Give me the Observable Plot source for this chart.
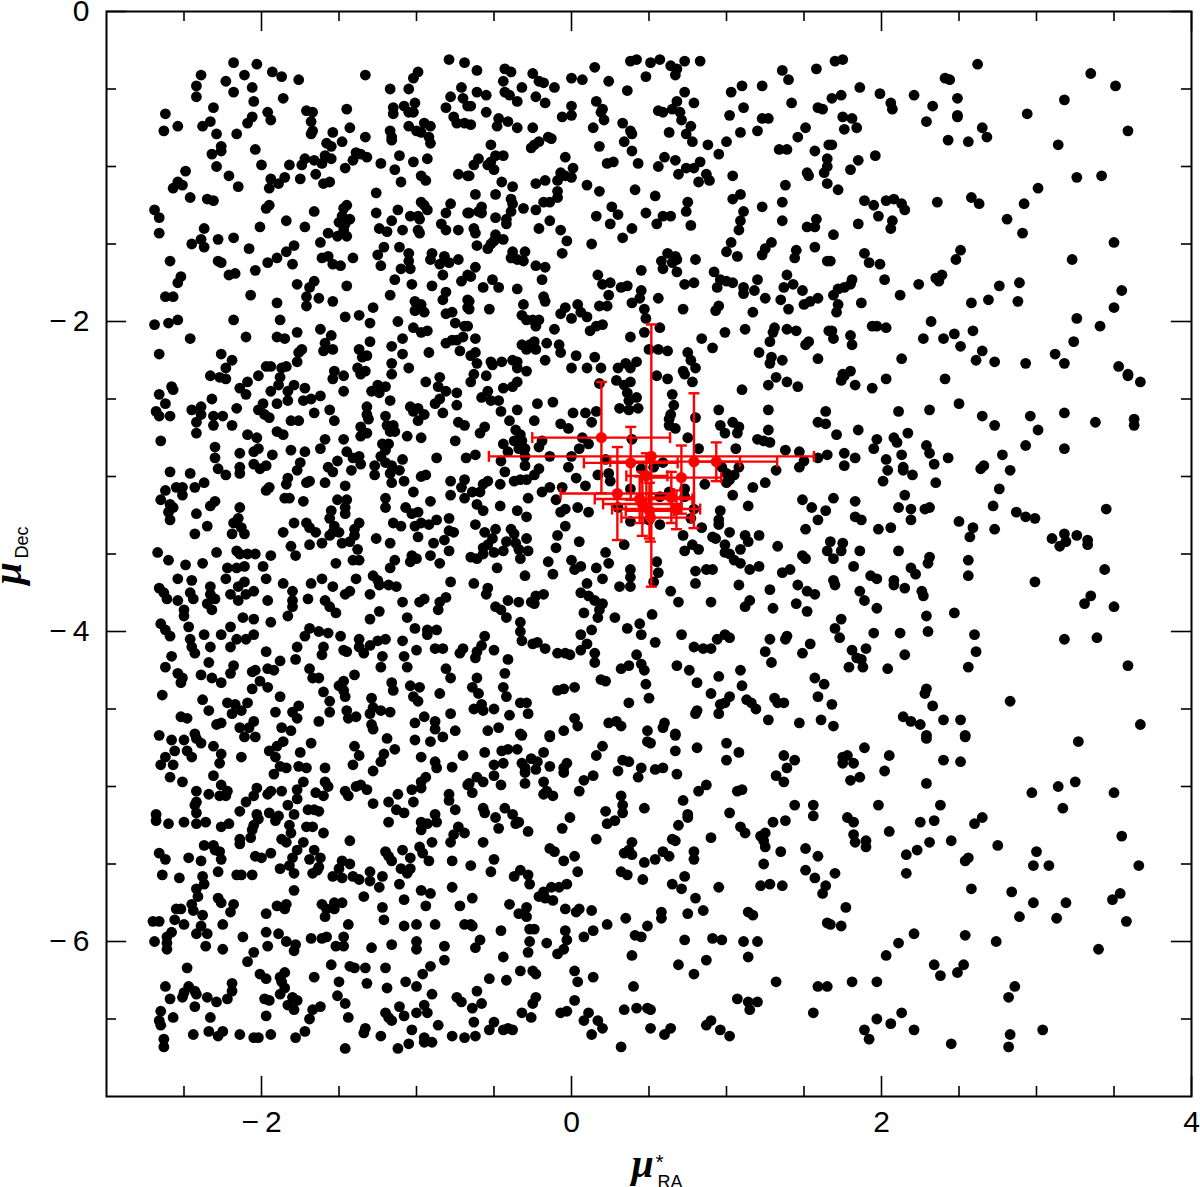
<!DOCTYPE html>
<html><head><meta charset="utf-8">
<style>html,body{margin:0;padding:0;background:#fff}svg{display:block}</style>
<script src="https://cdn.jsdelivr.net/npm/d3@7"></script>
<script src="https://cdn.jsdelivr.net/npm/@observablehq/plot@0.6"></script>
</head><body><div id="chart"></div>
<script>
const fieldTopLeft=[-2.18,-.33,-2.03,-.34,-2.39,-.41,-2.11,-.41,-1.93,-.39,-1.87,-.42,-1.76,-.44,-1.33,-.41,-2.23,-.45,-2.42,-.48,-2.42,-.55,-2.18,-.52,-2.06,-.49,-1.86,-.56,-2.05,-.58,-2.31,-.62,-2.62,-.66,-2.54,-.74,-2.63,-.77,-2.38,-.74,-2.33,-.71,-2.29,-.79,-2.16,-.79,-2.09,-.72,-2.06,-.68,-1.96,-.65,-1.94,-.7,-1.71,-.64,-1.67,-.65,-1.68,-.71,-1.67,-.77,-1.68,-.79,-1.45,-.63,-1.43,-.75,-1.54,-.78,-1.33,-.81,-1.48,-.84,-1.58,-.85,-1.55,-.87,-1.17,-.77,-1.16,-.83,-1.16,-.81,-1.05,-.74,-1,-.77,-.97,-.78,-.95,-.72,-.91,-.74,-.92,-.81,-.91,-.85,-1.17,-.5,-1.05,-.5,-1.02,-.43,-.99,-.39,-1.15,-.62,-1.15,-.66,-1.08,-.61,-1.05,-.65,-1.02,-.65,-1.01,-.59,-.79,-.31,-.69,-.33,-.71,-.49,-.78,-.55,-.7,-.56,-.81,-.62,-.67,-.61,-.76,-.68,-.74,-.72,-.69,-.72,-2.04,-.89,-2.26,-.87,-2.26,-.9,-2.32,-.92,-2.29,-1,-2.49,-1.03,-2.21,-1.06,-2.15,-1.13,-2,-.99,-1.82,-.99,-1.74,-.99,-1.72,-.95,-1.66,-.96,-1.61,-.98,-1.59,-.93,-1.55,-.95,-1.65,-1.05,-1.75,-1.08,-1.85,-1.07,-1.89,-1.11,-1.94,-1.08,-1.95,-1.14,-1.6,-1.11,-1.56,-1.1,-1.46,-1.01,-1.41,-.96,-1.39,-.91,-1.36,-.92,-1.32,-.94,-1.23,-.98,-1.14,-1.02,-1.11,-.93,-1.02,-.97,-.93,-.95,-1.1,-1.1,-.97,-1.06,-.94,-1.09,-.73,-1.05,-.67,-1.06,-2.57,-1.14,-2.54,-1.1,-2.51,-1.12,-2.46,-1.2,-2.35,-1.21,-2.31,-1.22,-2.69,-1.28,-2.66,-1.33,-2.66,-1.43,-1.95,-1.25,-1.97,-1.27,-1.66,-1.29,-1.84,-1.35,-2.01,-1.39,-1.72,-1.39,-1.57,-1.43,-1.45,-1.25,-1.47,-1.27,-1.48,-1.32,-1.43,-1.34,-1.5,-1.36,-1.46,-1.37,-1.47,-1.41,-1.51,-1.45,-1.45,-1.45,-1.26,-1.17,-1.26,-1.3,-1.12,-1.28,-1.16,-1.35,-1.24,-1.4,-1.19,-1.42,-1.09,-1.41,-1.04,-1.32,-.99,-1.32,-.98,-1.34,-.99,-1.41,-.98,-1.43,-.97,-1.23,-.95,-1.25,-.93,-1.28,-.78,-1.24,-.81,-1.3,-.67,-1.3,-.84,-1.37,-.81,-1.41,-.73,-1.41,-2.37,-1.4,-2.39,-1.47,-2.45,-1.5,-2.37,-1.52,-2.28,-1.47,-2.18,-1.46,-2.08,-1.53,-2.59,-1.61,-2.28,-1.61,-2.26,-1.62,-1.96,-1.62,-1.9,-1.59,-1.84,-1.55,-1.79,-1.51,-1.8,-1.63,-1.62,-1.49,-1.61,-1.59,-1.57,-1.58,-1.54,-1.63,-1.49,-1.64,-1.41,-1.59,-1.21,-1.52,-1.11,-1.52,-1.25,-1.57,-1.23,-1.64,-1.05,-1.56,-1.05,-1.61,-1.1,-1.66,-1.04,-1.66,-.9,-1.56,-.91,-1.6,-.82,-1.58,-.85,-1.63,-.79,-1.62,-.73,-1.6,-2.04,-1.67,-2.21,-1.7,-2.17,-1.69,-2.52,-1.71,-2.54,-1.75,-2.62,-1.84,-2.57,-1.84,-2.07,-1.83,-1.77,-1.76,-1.66,-1.74,-1.69,-1.78,-1.71,-1.84,-1.71,-1.9,-1.63,-1.85,-1.54,-1.87,-1.45,-1.77,-1.14,-1.73,-1.03,-1.76,-1.17,-1.83,-.83,-1.7,-.9,-1.77,-.71,-1.74,-.81,-1.81,-.83,-1.86,-.67,-1.86,-.67,-1.91,-.67,-1.7,-1.9,-1.88,-1.01,-1.87,-.97,-1.89,-1.01,-1.93,-.95,-1.94,-1.28,-1.91,-1.46,-1.97,-1.37,-1.96,-1.3,-2.01,-1.12,-2,-.81,-1.95,-.77,-1.94,-.75,-2.01,-.69,-2.03,-2.69,-2.02,-2.6,-2.01,-2.54,-1.99,-2.18,-1.99,-1.88,-1.99,-2.46,-2.11,-2.1,-2.1,-1.9,-2.1,-1.85,-2.11,-1.77,-2.07,-1.62,-2.05,-1.55,-2.09,-1.02,-2.04,-.97,-2.07,-.93,-2.06,-1.09,-2.11,-1.3,-2.13,-1.59,-2.14,-1.6,-2.19,-1.54,-2.18,-1.74,-2.18,-1.76,-2.2,-1.16,-2.16,-.81,-2.14,-.77,-2.12,-.74,-2.12,-.7,-2.1,-.72,-2.19,-.92,-2.2,-1.09,-2.21,-1.37,-2.18,-1.32,-2.22,-1.35,-2.23,-2.66,-2.21,-2.26,-2.21,-2.19,-2.25,-2.23,-2.3,-1.97,-2.29,-1.94,-2.29,-1.87,-2.3,-1.84,-2.29,-1.77,-2.26,-1.16,-2.27,-1.05,-2.3,-1.38,-2.3,-1.33,-2.32,-1.53,-2.32];
const fieldTopMid=[-.61,-.38,-.43,-.37,-.39,-.39,-.44,-.45,-.32,-.49,-.25,-.4,-.21,-.45,-.18,-.46,-.11,-.49,0,-.43,.07,-.44,.15,-.36,.24,-.45,.38,-.32,.42,-.31,.51,-.33,.57,-.31,.64,-.35,.68,-.37,.73,-.32,.67,-.41,.83,-.32,.48,-.42,.36,-.51,1.36,-.38,1.4,-.44,1.58,-.37,1.23,-.48,1.1,-.48,1.03,-.52,.73,-.52,-.61,-.52,-.55,-.54,-.43,-.52,-.4,-.54,-.35,-.58,-.23,-.55,-.17,-.59,-.65,-.61,-.55,-.65,0,-.61,0,-.67,-.06,-.68,.16,-.58,.2,-.63,.19,-.65,.21,-.7,.68,-.58,.65,-.63,.7,-.65,.79,-.59,.56,-.64,.59,-.65,.71,-.7,1.11,-.62,1.02,-.67,1.42,-.59,1.59,-.62,1.62,-.63,-.65,-.73,-.47,-.69,-.48,-.74,-.41,-.71,-.35,-.75,-.25,-.75,.14,-.75,.33,-.72,.38,-.77,.39,-.79,.34,-.84,.63,-.78,.77,-.74,.74,-.79,.78,-.84,1.23,-.69,1.27,-.69,1.2,-.77,1.09,-.78,1.51,-.75,1.46,-.81,1,-.84,.88,-.86,.95,-.92,-.52,-.86,-.15,-.81,-.13,-.82,-.21,-.84,-.24,-.86,-.26,-.88,.18,-.87,.39,-.9,-.04,-.94,1.34,-.89,1.39,-.89,1.57,-.9,1.66,-.86,-.44,-.93,-.49,-.93,-.6,-.95,-.63,-.99,-.54,-.99,-.5,-1.02,-.52,-.97,-.66,-1.06,.23,-.98,.27,-.97,.43,-.98,.6,-.94,.67,-.96,.56,-1,.74,-1.01,.79,-1.01,.83,-.97,.69,-1.05,.87,-1.05,.89,-1.09,.82,-1.1,1.04,-1.06,1.52,-1.04,1.53,-1.06,1.63,-1.04,1.65,-.95,1.65,-1,1.65,-1.11,.01,-1.01,-.07,-1.04,-.04,-1.06,0,-1.07,-.09,-1.09,-.17,-1.09,-.23,-1.11,-.45,-1.1,-.38,-1.13,.1,-1.12,.18,-1.16,.41,-1.15,.54,-1.19,1.38,-1.12,-.62,-1.18,-.49,-1.18,-.39,-1.21,-.38,-1.24,-.39,-1.29,-.31,-1.27,-.23,-1.28,-.09,-1.16,-.09,-1.2,-.14,-1.23,-.18,-1.23,1.04,-1.21,1.09,-1.18,.75,-1.23,.74,-1.29,1.36,-1.23,1.23,-1.26,1.11,-1.29,1.09,-1.35,1.08,-1.41,1.36,-1.35,1.58,-1.34,1.52,-1.39,1.57,-1.39,-.58,-1.26,-.6,-1.29,-.58,-1.3,-.66,-1.3,-.49,-1.33,-.42,-1.34,-.42,-1.37,.26,-1.26,.3,-1.31,.16,-1.32,.25,-1.37,.48,-1.3,.59,-1.32,.64,-1.32,.55,-1.37,.77,-1.38,-.14,-1.35,-.21,-1.4,-.07,-1.41,.39,-1.4,.33,-1.46,-.63,-1.4,-.62,-1.43,-.49,-1.44,-.5,-1.48,-.44,-1.47,-.61,-1.51,-.54,-1.53,-.52,-1.5,-.03,-1.48,.13,-1.5,-.06,-1.56,1.03,-1.49,1,-1.55,1.07,-1.58,1.29,-1.49,1.25,-1.53,1.23,-1.57,1.45,-1.54,1.44,-1.59,1.57,-1.52,1.65,-1.61,-.38,-1.55,-.3,-1.55,-.39,-1.59,-.35,-1.6,-.31,-1.61,-.23,-1.64,-.17,-1.65,-.19,-1.73,-.62,-1.65,-.65,-1.71,-.51,-1.73,-.57,-1.78,-.47,-1.78,-.35,-1.79,.62,-1.56,.67,-1.58,.58,-1.61,.65,-1.62,.68,-1.6,.8,-1.6,.59,-1.66,.45,-1.67,.17,-1.7,.68,-1.68,.92,-1.68,.96,-1.73,1,-1.74,1.04,-1.75,1.2,-1.73,1.39,-1.7,.79,-1.75,.73,-1.76,.94,-1.78,1.11,-1.78,1.11,-1.82,1.18,-1.8,1.43,-1.76,1.37,-1.78,1.49,-1.8,1.25,-1.85,1.35,-1.86,1.59,-1.85,1.54,-1.87,1.5,-1.89,.2,-1.76,.25,-1.75,.32,-1.78,.36,-1.77,.45,-1.8,.24,-1.83,.56,-1.85,.44,-1.85,.39,-1.88,-.18,-1.84,-.17,-1.87,-.31,-1.89,-.53,-1.92,-.66,-1.87,-.66,-1.92,.04,-1.89,.06,-1.94,-.04,-1.91,-.07,-1.95,0,-1.98,.1,-1.97,.18,-1.9,.23,-1.9,.47,-1.92,.72,-1.92,.95,-1.9,.93,-1.93,1.17,-1.94,1.4,-1.92,-.32,-1.96,-.29,-1.99,-.21,-1.99,-.25,-1.99,-.23,-2.03,-.67,-2.03,-.11,-2.05,.2,-2.02,.16,-2.03,.12,-2.06,.48,-1.98,.57,-2.04,.47,-2.07,.38,-2.1,.84,-2.11,.99,-2.07,1.12,-2.05,1.31,-2.04,1.3,-2.07,1.39,-2.05,1.45,-2.06,1.66,-2.06,-.62,-2.11,1.28,-2.13,1.53,-2.13,1.51,-2.15,-.24,-2.13,-.32,-2.15,-.27,-2.15,-.29,-2.18,-.23,-2.18,-.16,-2.14,-.08,-2.15,-.07,-2.2,.03,-2.22,.15,-2.23,-.17,-2.25,.5,-2.18,.56,-2.18,.62,-2.19,.91,-2.17,.75,-2.2,.77,-2.25,.8,-2.3,1.21,-2.2,1.29,-2.23,1.28,-2.27,1.36,-2.25,1.59,-2.24,-.62,-2.2,-.65,-2.22,-.61,-2.27,-.52,-2.26,-.51,-2.28,-.45,-2.26,-.38,-2.25,-.35,-2.26,-.35,-2.3,-.29,-2.32,0,-2.3,.1,-2.3,.19,-2.3,.3,-2.3,.35,-2.27,.38,-2.3,.42,-2.26,.72,-2.32];
const fieldTopRight=[1.7,-.32,1.75,-.31,1.86,-.49,1.68,-.56,1.74,-.54,1.99,-.53,2.06,-.59,2.07,-.63,2.21,-.54,2.33,-.61,2.41,-.43,2.44,-.44,2.62,-.34,2.49,-.56,2.49,-.68,2.49,-.67,2.29,-.71,1.75,-.68,1.81,-.69,1.76,-.76,1.84,-.75,2.94,-.66,3.18,-.57,3.35,-.4,3.51,-.48,3.59,-.77,2.65,-.75,2.68,-.81,2.43,-.83,2.56,-.84,3.14,-.86,1.68,-.86,1.96,-.93,1.85,-.96,1.8,-1.02,1.72,-1.15,3.26,-1.07,3.42,-1.06,3.01,-1.14,1.89,-1.22,1.95,-1.25,2.03,-1.22,2.08,-1.21,2.13,-1.24,2.15,-1.28,2.36,-1.23,2.58,-1.2,2.63,-1.24,2.92,-1.24,1.98,-1.32,2.07,-1.35,2.06,-1.4,1.85,-1.37,2.81,-1.34,2.91,-1.43,1.69,-1.44,3.5,-1.49,3.23,-1.6,2.51,-1.54,2.48,-1.6,1.89,-1.56,1.92,-1.62,1.99,-1.63,1.67,-1.61,2.39,-1.7,2.35,-1.72,2.37,-1.74,2.02,-1.73,1.81,-1.73,1.8,-1.76,1.76,-1.78,1.72,-1.79,1.69,-1.83,2.24,-1.76,2.12,-1.83,2.76,-1.77,2.89,-1.75,3.55,-1.8,2.58,-1.88,2.69,-1.86,2.88,-1.87,3.5,-1.91,1.87,-1.88,1.72,-1.89,1.71,-1.94,3.26,-1.98,2.32,-2,3.41,-2.03,1.94,-2.03,1.97,-2.03,2.03,-2.04,1.68,-2.06,1.69,-2.11,1.8,-2.09,1.81,-2.15,2.59,-2.06,2.47,-2.08,2.4,-2.11,2.27,-2.11,2.51,-2.16,3.24,-2.13,2.65,-2.19,3.12,-2.21,2.61,-2.25,2.73,-2.26,2.13,-2.24,2.93,-2.27,3.18,-2.27,3.53,-2.29,3.59,-2.34,1.8,-2.32,1.75,-2.34];
const fieldMidLeft=[-2.33,-2.35,-2.27,-2.36,-2.23,-2.37,-2.02,-2.35,-1.88,-2.36,-2.09,-2.39,-2.14,-2.43,-2.1,-2.47,-1.89,-2.41,-1.94,-2.45,-1.79,-2.41,-1.83,-2.45,-1.72,-2.43,-1.54,-2.37,-1.47,-2.35,-1.47,-2.45,-1.36,-2.34,-1.16,-2.34,-1.62,-2.48,-2.58,-2.42,-2.57,-2.44,-2.66,-2.47,-2.32,-2.5,-2.62,-2.53,-2.68,-2.58,-2.66,-2.61,-2.59,-2.61,-2.45,-2.57,-2.39,-2.55,-2.39,-2.6,-2.42,-2.65,-2.31,-2.61,-2.25,-2.61,-2.31,-2.67,-2.19,-2.67,-2.16,-2.56,-2.42,-2.72,-2.65,-2.77,-1.9,-2.53,-1.99,-2.53,-2.02,-2.57,-1.98,-2.6,-1.95,-2.62,-1.83,-2.51,-1.73,-2.51,-1.68,-2.5,-1.81,-2.64,-1.76,-2.64,-1.66,-2.59,-1.56,-2.57,-1.53,-2.64,-2.09,-2.73,-2.03,-2.75,-1.9,-2.71,-1.86,-2.73,-1.32,-2.55,-1.32,-2.6,-1.31,-2.63,-1.17,-2.51,-1.2,-2.61,-1.36,-2.68,-1.32,-2.72,-1.36,-2.74,-1.19,-2.67,-1.15,-2.67,-1.17,-2.71,-1.14,-2.71,-1.06,-2.74,-.97,-2.75,-1.04,-2.55,-.99,-2.56,-1.02,-2.58,-.95,-2.6,-.99,-2.64,-1.2,-2.42,-1.25,-2.41,-1.29,-2.45,-1.24,-2.46,-.94,-2.39,-.85,-2.36,-.86,-2.42,-.81,-2.45,-.85,-2.5,-.88,-2.53,-.74,-2.46,-.74,-2.54,-.83,-2.59,-.73,-2.65,-.69,-2.67,-.75,-2.77,-1.59,-2.76,-1.62,-2.82,-1.47,-2.76,-1.45,-2.84,-1.41,-2.88,-1.37,-2.87,-1.36,-2.92,-1.51,-2.9,-1.42,-2.96,-1.57,-2.94,-1.54,-2.97,-1.22,-2.79,-1.18,-2.79,-1.2,-2.83,-1.23,-2.87,-1.2,-2.91,-1.16,-2.93,-1.27,-2.93,-1.27,-2.99,-1.17,-2.98,-1.09,-2.89,-1.11,-2.96,-1.16,-3.04,-1.08,-3.03,-.87,-2.88,-.68,-2.88,-.97,-3,-.94,-2.99,-.78,-3.03,-.69,-3.02,-.71,-3.07,-.78,-3.12,-.69,-3.14,-2.3,-2.81,-2.3,-2.88,-2.14,-2.85,-2.05,-2.84,-2.02,-2.82,-1.93,-2.86,-1.81,-2.83,-1.72,-2.84,-1.75,-2.91,-1.77,-2.96,-2.28,-2.95,-2.14,-2.94,-2.14,-2.98,-2.05,-2.92,-2.01,-2.95,-1.97,-2.93,-2.23,-2.99,-2.59,-2.97,-2.46,-2.98,-2.37,-3.04,-2.43,-3.07,-1.83,-3.01,-1.84,-3.05,-1.69,-3.03,-1.71,-3.04,-1.59,-3.04,-1.46,-3.06,-2.55,-3.07,-2.51,-3.07,-2.51,-3.12,-2.62,-3.09,-2.65,-3.15,-2.59,-3.18,-2.57,-3.2,-2.6,-3.23,-2.59,-3.28,-2.42,-3.24,-2.33,-3.19,-2.3,-3.16,-1.95,-3.07,-1.97,-3.09,-1.85,-3.14,-1.82,-3.14,-1.73,-3.16,-1.51,-3.15,-1.45,-3.15,-1.46,-3.2,-1.46,-3.24,-1.55,-3.22,-1.56,-3.27,-1.2,-3.14,-1.2,-3.2,-1.02,-3.1,-.91,-3.16,-1.07,-3.2,-1.03,-3.24,-.99,-3.23,-2.14,-3.2,-2.15,-3.27,-2.18,-3.3,-2.13,-3.33,-2.19,-3.37,-2.11,-3.37,-2.35,-3.32,-2.43,-3.37,-1.79,-3.3,-1.86,-3.36,-1.71,-3.3,-1.69,-3.33,-1.65,-3.36,-1.53,-3.32,-1.54,-3.36,-1.56,-3.38,-1.61,-3.43,-1.5,-3.36,-1.37,-3.3,-1.4,-3.34,-1.4,-3.38,-1.43,-3.42,-1.48,-3.43,-1.26,-3.4,-1.17,-3.43,-1.15,-3.3,-1.1,-3.32,-1.01,-3.32,-.97,-3.3,-.92,-3.31,-.87,-3.28,-.79,-3.27,-.79,-3.35,-.76,-3.36,-.99,-3.39,-.82,-3.41,-.89,-3.43,-.79,-3.48,-.91,-3.51,-.85,-3.56,-1.81,-3.45,-1.78,-3.51,-1.69,-3.44,-1.38,-3.47,-1.37,-3.54,-1.41,-3.54,-1.52,-3.56,-1.14,-3.54,-1.17,-3.59,-1.03,-3.51,-1,-3.53,-1.04,-3.55,-2.67,-3.49,-2.6,-3.54,-2.49,-3.57,-2.38,-3.56,-2.29,-3.49,-2.16,-3.48,-2.14,-3.5,-2.09,-3.5,-2.04,-3.5,-1.94,-3.51,-1.99,-3.58,-2.11,-3.58,-2.16,-3.59,-2.22,-3.59,-2.23,-3.66,-2.54,-3.66,-2.45,-3.67,-2.33,-3.71,-1.97,-3.66,-2.11,-3.68,-2.15,-3.71,-1.86,-3.69,-1.68,-3.69,-1.61,-3.66,-1.54,-3.71,-1.39,-3.66,-1.28,-3.64,-1.25,-3.67,-1.24,-3.7,-1.18,-3.7,-1.13,-3.71,-.78,-3.68,-2.66,-3.72,-2.63,-3.75,-2.61,-3.79,-2.54,-3.8,-2.46,-3.75,-2.44,-3.79,-2.33,-3.76,-2.3,-3.79,-2.35,-3.82,-2.32,-3.86,-2.5,-3.86,-2.5,-3.9,-2.2,-3.76,-2.15,-3.8,-2.1,-3.76,-2.05,-3.74,-1.96,-3.8,-1.8,-3.74,-1.8,-3.8,-1.8,-3.84,-1.83,-3.9,-1.7,-3.79,-1.59,-3.8,-1.56,-3.84,-1.52,-3.88,-1.43,-3.74,-1.46,-3.76,-1.3,-3.76,-1.24,-3.87,-1.3,-3.92,-1.09,-3.81,-.98,-3.81,-.95,-3.79,-.81,-3.78,-.85,-3.81,-.86,-3.86,-1.06,-3.91,-2.12,-3.91,-2.05,-3.92,-1.94,-3.94,-2.65,-3.95,-2.62,-3.99,-2.59,-4.03,-2.47,-3.97,-2.37,-4.02,-2.26,-4.02,-2.2,-3.97,-2.05,-4.02,-2.1,-4.05,-2.16,-4.05,-2.2,-4.1,-2.46,-4.05,-2.33,-4.1,-2.45,-4.1,-2.43,-4.14,-1.97,-4.13,-2.58,-4.16,-1.69,-3.98,-1.72,-4.03,-1.63,-4,-1.57,-4.01,-1.49,-4.03,-1.77,-4.1,-1.6,-4.1,-1.61,-4.15,-1.78,-4.18,-1.88,-4.19,-1.47,-4.12,-1.45,-4.13,-1.37,-4.05,-1.37,-4.1,-1.3,-4.09,-1.34,-4.14,-1.25,-4.06,-1.2,-4.05,-1.09,-4.06,-1.01,-3.98,-.93,-3.99,-.87,-3.99,-.93,-4.02,-1,-4.12,-1.08,-4.16,-.88,-4.11,-.83,-4.11,-.7,-4.11,-.72,-4.14,-1.22,-4.16,-1.23,-4.23,-1.06,-4.23,-2.62,-4.23,-2.34,-4.2,-2.18,-4.22,-2.2,-4.27,-2.54,-4.27,-2.51,-4.3,-2.52,-4.33,-2.39,-4.28,-2.32,-4.3,-2.26,-4.33,-2.06,-4.26,-2.04,-4.25,-1.96,-4.24,-1.92,-4.25,-2.01,-4.32,-1.96,-4.36,-2.06,-4.37,-1.69,-4.24,-1.67,-4.3,-1.63,-4.3,-1.4,-4.28,-1.47,-4.32,-1.5,-4.35,-1.47,-4.38,-1.46,-4.42,-1.6,-4.39,-1.56,-4.45,-1.16,-4.33,-1.15,-4.38,-1.04,-4.35,-.98,-4.36,-1.02,-4.42,-.99,-4.45,-.85,-4.4,-.81,-4.24,-.78,-4.3,-2.64,-4.41,-2.38,-4.44,-2.22,-4.46,-2.17,-4.47,-2.09,-4.46,-1.88,-4.42,-1.76,-4.48,-2.34,-4.51,-2.19,-4.53,-2.13,-4.51,-1.91,-4.52,-1.8,-4.52,-1.77,-4.56,-1.56,-4.52,-1.45,-4.51,-1.44,-4.56,-1.39,-4.55,-1.29,-4.43,-1.28,-4.49,-1.3,-4.53,-1.23,-4.51,-1.17,-4.52,-.95,-4.55,-1.01,-4.59,-.88,-4.58,-.78,-4.53,-2.52,-4.55,-2.48,-4.56,-2.29,-4.6,-2.26,-4.59,-2.14,-4.62,-2.05,-4.58,-2.08,-4.62,-1.87,-4.62,-1.81,-4.64,-1.63,-4.58,-1.29,-4.6,-1.28,-4.63,-.88,-4.63,-.75,-4.64,-2.66,-4.67,-2.43,-4.66];
const fieldMidMid=[-.63,-2.34,-.65,-2.39,-.55,-2.35,-.44,-2.43,-.38,-2.42,-.35,-2.39,-.54,-2.45,-.58,-2.49,-.52,-2.51,-.47,-2.51,-.455,-2.58,-.35,-2.57,-.4,-2.64,-.22,-2.53,-.12,-2.52,-.24,-2.64,-.07,-2.66,-.02,-2.69,.01,-2.59,.09,-2.59,.16,-2.58,.13,-2.65,.18,-2.4,.29,-2.38,.34,-2.41,.38,-2.39,.36,-2.46,.42,-2.49,.37,-2.51,.31,-2.56,.37,-2.57,.43,-2.56,.55,-2.35,.62,-2.37,.73,-2.34,.78,-2.39,.65,-2.47,.66,-2.54,.64,-2.6,.63,-2.63,.63,-2.67,.67,-2.69,.8,-2.62,.95,-2.57,.96,-2.67,.99,-2.72,1.04,-2.65,1.08,-2.68,1.07,-2.72,1.1,-2.44,1.27,-2.41,1.32,-2.36,1.39,-2.39,1.46,-2.42,1.27,-2.57,1.27,-2.7,1.64,-2.58,1.59,-2.65,1.64,-2.66,1.2,-2.76,1.24,-2.77,1.28,-2.78,-.56,-2.68,-.59,-2.72,-.36,-2.7,-.33,-2.73,-.37,-2.77,-.32,-2.77,-.19,-2.77,-.44,-2.79,-.41,-2.84,-.34,-2.82,-.3,-2.82,-.21,-2.81,-.3,-2.87,-.14,-2.87,.11,-2.79,.07,-2.75,.39,-2.76,.75,-2.75,.82,-2.82,1.06,-2.82,1.38,-2.83,1.47,-2.84,1.59,-2.88,1.65,-2.86,1.5,-2.9,1.47,-2.94,-.62,-2.86,-.455,-2.9,-.3,-2.93,-.43,-2.97,-.21,-2.95,-.24,-2.99,-.02,-2.94,0,-2.87,.05,-2.82,.03,-3.01,.17,-2.99,.24,-2.98,.25,-3.03,.09,-3.06,-.06,-3.07,.22,-2.89,1.32,-2.96,.97,-2.94,1,-2.98,1.08,-2.94,1.05,-2.99,1.02,-3.02,1,-3.04,.86,-3.05,1.25,-3.04,1.17,-3.07,1.04,-3.12,1.14,-3.19,-.54,-3.03,-.57,-3.05,-.46,-3.05,-.59,-3.1,-.64,-3.1,-.37,-3.03,-.33,-3.02,-.29,-3.02,-.14,-3.07,-.19,-3.1,-.1,-3.15,-.28,-3.14,-.46,-3.19,-.61,-3.18,-.57,-3.22,-.35,-3.22,-.29,-3.26,-.04,-3.21,-.07,-3.23,.04,-3.2,.11,-3.23,1.49,-3.15,1.55,-3.2,1.64,-3.22,1.59,-3.28,1.51,-3.34,.96,-3.22,.95,-3.28,.95,-3.31,.3,-3.2,.38,-3.29,.57,-3.31,.38,-3.08,.57,-3.13,.63,-3.1,.73,-3.08,.73,-3.13,.79,-3.21,.77,-3.27,.45,-2.95,.53,-2.94,.59,-2.91,.5,-3.28,-.04,-3.32,-.62,-3.31,-.56,-3.36,-.49,-3.34,-.39,-3.34,-.37,-3.37,-.29,-3.4,-.51,-3.4,-.54,-3.44,-.57,-3.46,-.57,-3.5,-.42,-3.42,-.36,-3.43,-.34,-3.47,-.28,-3.48,-.5,-3.49,-.44,-3.48,-.33,-3.53,-.65,-3.52,-.61,-3.53,-.09,-3.38,-.1,-3.46,.05,-3.42,-.48,-3.59,-.3,-3.64,-.15,-3.55,-.12,-3.63,0,-3.54,.06,-3.58,.02,-3.6,.16,-3.59,.2,-3.66,.22,-3.49,.24,-3.56,.34,-3.44,.55,-3.55,.56,-3.62,.38,-3.6,.38,-3.65,.38,-3.71,.31,-3.71,.53,-3.68,.64,-3.74,.1,-3.69,.06,-3.75,-.63,-3.69,-.54,-3.72,-.55,-3.76,.72,-3.38,.84,-3.33,.91,-3.39,.93,-3.4,1.02,-3.36,1.12,-3.38,1.14,-3.42,1.21,-3.38,.99,-3.44,.99,-3.49,1.02,-3.5,1.09,-3.47,1.05,-3.54,1.09,-3.56,1.33,-3.45,.73,-3.48,.78,-3.44,.82,-3.47,1.49,-3.51,1.51,-3.53,1.65,-3.48,1.21,-3.58,1.15,-3.6,1.41,-3.6,1.36,-3.62,.8,-3.61,.87,-3.6,.91,-3.6,.8,-3.69,1.08,-3.7,1.28,-3.73,1.46,-3.7,1.52,-3.74,1.57,-3.76,-.41,-3.8,-.34,-3.81,-.49,-3.84,-.455,-3.86,-.42,-3.91,-.23,-3.77,-.18,-3.76,-.26,-3.81,-.24,-3.82,-.33,-3.94,-.33,-4,-.32,-4.06,.11,-3.77,.15,-3.8,.2,-3.82,.18,-3.86,.17,-3.91,.08,-3.88,.28,-3.91,.52,-3.89,.69,-3.81,.9,-3.81,1.15,-3.8,1.12,-3.84,1.3,-3.85,1.45,-3.82,1.52,-3.87,.44,-3.95,.36,-3.98,.45,-4.02,.54,-4.07,.13,-3.99,.06,-4.02,.1,-4.08,.06,-4.12,.15,-4.14,.15,-4.2,-.56,-4.03,-.58,-4.09,-.61,-4.13,-.62,-4.17,-.5,-4.12,-.41,-4.18,-.25,-4.08,-.22,-4.07,-.17,-4.11,-.09,-4.14,-.04,-4.14,-.01,-4.15,.71,-4.02,.94,-4.05,.99,-4.02,1.02,-4.04,.79,-4.1,.85,-4.11,.9,-4.11,1.28,-4.05,1.25,-4.13,1.39,-4.03,1.38,-4.05,1.54,-4.08,1.49,-4.14,1.29,-4.2,.42,-4.15,.32,-4.24,.37,-4.22,.45,-4.21,.47,-4.25,.68,-4.22,.76,-4.25,1.09,-4.25,.95,-4.29,.81,-4.33,-.43,-4.27,-.61,-4.3,-.64,-4.36,-.6,-4.4,-.44,-4.36,-.42,-4.42,.19,-4.31,.22,-4.32,.02,-4.36,-.09,-4.38,-.05,-4.37,.48,-4.34,.5,-4.43,.37,-4.46,1.1,-4.35,1.57,-4.3,1.63,-4.34,1.59,-4.42,.9,-4.4,1.02,-4.42,.99,-4.46,.96,-4.47,1.13,-4.44,1.16,-4.46,1.19,-4.5,1.31,-4.43,1.33,-4.46,1.37,-4.46,-.33,-4.46,-.29,-4.46,-.58,-4.47,-.63,-4.5,-.57,-4.51,-.5,-4.5,-.4,-4.54,-.28,-4.53,.81,-4.51,.8,-4.53,.95,-4.53,.02,-4.56,.04,-4.61,.24,-4.59,.29,-4.58,.32,-4.61,.6,-4.59,.59,-4.62,1.27,-4.57,1.47,-4.59,1.61,-4.57,-.47,-4.62,-.54,-4.64,-.33,-4.66,-.05,-4.64,-.14,-4.67,.49,-4.64,.67,-4.66];
const fieldMidRight=[1.74,-2.38,1.76,-2.35,1.83,-2.41,1.94,-2.43,2.03,-2.37,2.41,-2.37,3.59,-2.35,3.67,-2.39,2.5,-2.53,2.11,-2.58,2.31,-2.57,2.65,-2.61,2.73,-2.67,2.96,-2.61,3.01,-2.7,3.18,-2.59,3.38,-2.65,3.63,-2.63,3.63,-2.67,1.85,-2.7,1.71,-2.73,1.97,-2.76,1.95,-2.82,2.08,-2.75,2.1,-2.78,2.17,-2.72,2.29,-2.8,2.31,-2.85,2.93,-2.8,3.18,-2.82,1.76,-2.85,1.83,-2.88,1.76,-2.93,2.03,-2.89,2.13,-2.86,2.04,-2.96,2.14,-2.94,2.14,-2.96,2.2,-2.99,2.01,-3.03,2.34,-2.92,2.35,-3.04,2.43,-2.88,2.66,-2.93,2.64,-2.95,2.78,-2.86,2.83,-2.96,2.76,-3.08,2.15,-3.12,1.69,-3.14,1.83,-3.16,2.11,-3.2,2.19,-3.21,2.28,-3.21,2.31,-3.2,2.72,-3.19,2.87,-3.23,2.93,-3.26,2.99,-3.27,3.45,-3.21,1.83,-3.26,1.87,-3.28,2.19,-3.28,2.5,-3.29,2.59,-3.33,2.57,-3.39,2.73,-3.34,2.06,-3.33,1.98,-3.34,3.1,-3.4,3.18,-3.37,3.19,-3.42,3.15,-3.45,3.26,-3.38,3.33,-3.41,3.33,-3.44,1.67,-3.42,1.75,-3.43,1.74,-3.48,1.86,-3.48,2.11,-3.48,1.69,-3.53,2.31,-3.52,2.3,-3.56,2.56,-3.54,1.82,-3.58,2.19,-3.59,2.22,-3.63,1.93,-3.64,1.97,-3.66,2.56,-3.64,3.44,-3.6,2.99,-3.68,1.69,-3.67,1.7,-3.7,2.08,-3.67,2.08,-3.7,2.15,-3.72,2.26,-3.74,2.27,-3.77,1.86,-3.74,1.89,-3.8,1.97,-3.85,3.35,-3.77,3.31,-3.82,3.5,-3.84,2.29,-3.9,2.47,-3.88,1.74,-3.92,1.7,-3.98,1.73,-4.04,1.95,-4.01,2.12,-4.01,2.3,-4,2.6,-4.02,3.18,-4.05,3.39,-4.04,1.81,-4.12,1.9,-4.11,2.61,-4.13,2.15,-4.15,1.84,-4.17,1.87,-4.18,1.79,-4.23,1.88,-4.23,2.04,-4.24,2.56,-4.23,3.59,-4.22,2.29,-4.37,2.28,-4.4,2.83,-4.45,1.68,-4.47,2.33,-4.48,2.14,-4.55,2.19,-4.58,2.25,-4.6,2.4,-4.57,2.51,-4.57,1.69,-4.61,3.67,-4.6,2.54,-4.67,2.29,-4.67];
const fieldLowLeft=[-2.58,-4.7,-2.5,-4.7,-2.42,-4.69,-2.39,-4.72,-2.31,-4.74,-2.11,-4.68,-2.04,-4.68,-1.86,-4.71,-1.9,-4.74,-1.95,-4.77,-1.68,-4.72,-1.75,-4.78,-1.91,-4.81,-2.56,-4.77,-2.48,-4.77,-2.45,-4.81,-2.26,-4.79,-2.62,-4.81,-2.65,-4.86,-2.57,-4.86,-2.27,-4.85,-2.13,-4.81,-2.31,-4.93,-2.59,-4.94,-2.51,-4.97,-1.88,-4.87,-1.84,-4.88,-1.76,-4.87,-1.71,-4.88,-1.59,-4.88,-1.92,-4.92,-1.4,-4.74,-1.37,-4.8,-1.41,-4.86,-1.28,-4.9,-1.19,-4.69,-1.14,-4.76,-1.21,-4.79,-1.23,-4.84,-1.01,-4.7,-.91,-4.71,-.83,-4.68,-.97,-4.81,-.7,-4.8,-.88,-4.84,-.87,-4.88,-.77,-4.875,-.94,-4.94,-.97,-4.97,-.67,-4.99,-1.73,-4.97,-1.59,-4.97,-1.57,-5,-1.77,-5.02,-1.87,-5.03,-1.94,-5.03,-1.96,-5.05,-2.03,-5.01,-2.05,-5.06,-2.1,-5.1,-2.42,-5.03,-2.34,-5.05,-2.26,-4.99,-2.22,-5.03,-2.27,-5.06,-2.23,-5.06,-2.42,-5.1,-2.43,-5.12,-2.42,-5.17,-1.65,-5.04,-1.6,-5.06,-1.77,-5.08,-1.83,-5.12,-1.46,-5.03,-1.44,-5.06,-1.39,-5,-1.36,-4.99,-1.32,-5.02,-1.28,-5.11,-1.12,-5.05,-1.18,-5.1,-1.13,-5.15,-1.08,-5.17,-1.02,-5.1,-1.03,-5.02,-.97,-5.01,-.79,-5.05,-.79,-5.09,-.75,-5.15,-1.7,-5.15,-1.66,-5.15,-1.63,-5.16,-1.79,-5.18,-2.14,-5.16,-2.03,-5.18,-2.02,-5.21,-1.95,-5.17,-1.89,-5.19,-1.91,-5.22,-2.68,-5.18,-2.68,-5.22,-2.6,-5.24,-2.5,-5.23,-2.42,-5.24,-2.36,-5.23,-2.26,-5.26,-2.21,-5.24,-2.05,-5.25,-2.06,-5.28,-1.82,-5.25,-1.81,-5.3,-1.71,-5.26,-1.67,-5.26,-1.6,-5.3,-1.18,-5.23,-.88,-5.18,-.97,-5.23,-.93,-5.24,-.87,-5.23,-.97,-5.28,-.73,-5.26,-.76,-5.31,-.69,-5.3,-.78,-5.36,-2.14,-5.34,-2.14,-5.37,-2.07,-5.33,-1.87,-5.34,-1.84,-5.36,-1.73,-5.36,-1.43,-5.35,-.9,-5.36,-2.37,-5.38,-2.31,-5.38,-2.3,-5.41,-2.27,-5.42,-2.66,-5.43,-2.62,-5.47,-2.47,-5.46,-2.39,-5.48,-2.26,-5.47,-2.04,-5.45,-2,-5.46,-1.94,-5.43,-1.77,-5.41,-1.8,-5.46,-1.66,-5.41,-1.62,-5.46,-1.69,-5.47,-1.2,-5.42,-1.18,-5.45,-1.16,-5.48,-1.09,-5.41,-1.04,-5.46,-.98,-5.39,-.96,-5.43,-.92,-5.48,-.77,-5.48,-1.48,-5.48,-1.43,-5.5,-1.82,-5.51,-1.88,-5.53,-1.63,-5.52,-1.64,-5.54,-1.67,-5.56,-1.79,-5.56,-1.5,-5.53,-1.54,-5.58,-1.48,-5.59,-1.41,-5.58,-1.37,-5.6,-1.3,-5.55,-1.3,-5.61,-1.22,-5.58,-1.1,-5.53,-1.04,-5.53,-1.06,-5.56,-1.11,-5.63,-1.24,-5.65,-2.64,-5.57,-2.53,-5.59,-2.28,-5.55,-2.16,-5.57,-2.13,-5.57,-2.06,-5.57,-2.38,-5.58,-2.37,-5.63,-2.42,-5.66,-2.41,-5.71,-2.45,-5.76,-2.44,-5.8,-2.55,-5.79,-2.52,-5.79,-2.56,-5.86,-2.38,-5.83,-2.28,-5.72,-2.26,-5.75,-2.18,-5.76,-2.2,-5.81,-1.79,-5.67,-1.34,-5.71,-1.08,-5.73,-.97,-5.67,-.91,-5.69,-.77,-5.65,-.94,-5.77,-.72,-5.77,-1.22,-5.78,-1.21,-5.86,-1.9,-5.77,-1.84,-5.76,-1.85,-5.79,-1.97,-5.82,-1.61,-5.76,-1.58,-5.79,-1.59,-5.84,-1.53,-5.75,-1.48,-5.75,-1.53,-5.79,-1.44,-5.89,-2.7,-5.87,-2.66,-5.87,-2.5,-5.89,-2.39,-5.9,-2.25,-5.89,-2.42,-5.95,-2.35,-5.95,-2.58,-5.94,-2.61,-5.97,-2.69,-6,-2.61,-6.01,-2.61,-6.05,-2.36,-6.03,-2.25,-6.05,-2.12,-5.97,-1.97,-5.94,-1.89,-5.95,-1.84,-6,-1.78,-6.02,-1.79,-6.06,-1.96,-6.03,-2.05,-6.07,-2.09,-6.13,-1.68,-5.98,-1.61,-5.98,-1.58,-5.97,-1.47,-5.97,-1.52,-6.03,-1.47,-6.03,-1.29,-6.04,-1.16,-6.02,-1.08,-5.9,-1,-5.89,-.88,-5.89,-1,-6,-1,-6.05,-.82,-6.03,-.82,-6.12,-.69,-5.89,-2.48,-6.17,-1.55,-6.15,-1.43,-6.16,-1.4,-6.17,-1.33,-6.17,-1.2,-6.17,-.91,-6.16,-.96,-6.21,-2.01,-6.21,-1.97,-6.24,-1.85,-6.2,-1.88,-6.23,-1.87,-6.26,-1.85,-6.3,-1.88,-6.34,-1.66,-6.23,-1.5,-6.26,-1.32,-6.27,-1.19,-6.3,-1.07,-6.26,-1,-6.29,-2.62,-6.29,-2.47,-6.29,-2.5,-6.33,-2.51,-6.36,-2.43,-6.32,-2.42,-6.34,-2.35,-6.36,-2.29,-6.39,-2.22,-6.37,-2.19,-6.32,-2.19,-6.27,-2.59,-6.37,-2.43,-6.42,-1.98,-6.37,-1.95,-6.38,-1.8,-6.36,-1.77,-6.38,-1.83,-6.41,-1.79,-6.44,-1.67,-6.44,-1.62,-6.42,-1.51,-6.35,-1.46,-6.4,-.9,-6.34,-.74,-6.36,-.71,-6.39,-.95,-6.41,-1.11,-6.42,-1.2,-6.46,-1.18,-6.49,-1.16,-6.51,-1.08,-6.48,-1,-6.46,-.93,-6.46,-2.65,-6.45,-2.57,-6.49,-2.66,-6.51,-2.65,-6.54,-2.33,-6.49,-1.97,-6.48,-1.69,-6.5,-1.44,-6.49,-1.33,-6.56,-1.34,-6.59,-1.23,-6.61,-1.03,-6.57,-.86,-6.54,-2.44,-6.6,-2.34,-6.58,-2.25,-6.58,-2.28,-6.61,-2.14,-6.6,-2.05,-6.62,-2.02,-6.62,-1.94,-6.6,-1.78,-6.62,-1.72,-6.58,-2.63,-6.63,-2.63,-6.68,-1.46,-6.69,-1.12,-6.69,-1.05,-6.66,-.95,-6.62,-.95,-6.65,-.9,-6.65,-.77,-6.61,-.69,-6.62];
const fieldLowMid=[-.32,-4.67,-.14,-4.68,.49,-4.71,.51,-4.72,.67,-4.67,-.56,-4.78,-.45,-4.77,-.41,-4.76,-.35,-4.76,-.18,-4.78,.2,-4.74,.16,-4.8,.67,-4.77,.81,-4.75,1,-4.72,1.08,-4.78,1,-4.83,1.37,-4.8,1.44,-4.83,1.39,-4.88,-.5,-4.86,-.44,-4.85,-.32,-4.85,-.26,-4.82,-.22,-4.84,-.3,-4.88,-.23,-4.89,-.14,-4.87,-.03,-4.85,-.05,-4.88,-.05,-4.91,-.3,-4.91,.33,-4.83,.37,-4.84,.45,-4.88,.54,-4.89,.59,-4.88,.3,-4.9,.43,-4.94,.68,-4.92,1.32,-4.93,1.37,-4.97,-.61,-4.94,-.57,-4.97,-.5,-4.93,-.455,-4.99,-.66,-4.98,-.64,-5.04,-.3,-4.98,-.18,-4.97,-.16,-5.03,-.18,-5.05,-.12,-5.06,.14,-4.93,.08,-4.96,.05,-5.03,.87,-4.99,.82,-5.03,1.07,-5.03,1.1,-5.02,.32,-5.06,.72,-5.09,.33,-5.12,.33,-5.17,.22,-5.16,.47,-5.14,.28,-5.22,.23,-5.24,.75,-5.18,.75,-5.2,.69,-5.25,1.02,-5.17,1.44,-5.12,1.56,-5.12,1.56,-5.19,1.38,-5.22,1.3,-5.23,-.57,-5.14,-.56,-5.17,-.43,-5.14,-.38,-5.18,-.49,-5.2,-.34,-5.23,-.36,-5.24,-.47,-5.27,-.28,-5.29,-.01,-5.2,-.06,-5.27,-.57,-5.36,.16,-5.34,1.09,-5.26,1.12,-5.3,1.22,-5.32,1.25,-5.3,1.24,-5.35,1.25,-5.39,.9,-5.33,.65,-5.34,.67,-5.35,.39,-5.36,.34,-5.43,.39,-5.44,.37,-5.41,.59,-5.42,.63,-5.45,.54,-5.47,.47,-5.49,.79,-5.42,.79,-5.47,-.14,-5.4,-.11,-5.42,-.05,-5.48,.02,-5.45,-.5,-5.47,-.65,-5.51,.04,-5.55,1.35,-5.42,1.51,-5.4,1.59,-5.45,1.24,-5.5,1.51,-5.54,1.57,-5.59,.32,-5.55,.36,-5.57,.46,-5.6,.73,-5.58,.65,-5.63,.71,-5.66,.95,-5.65,1.22,-5.64,1.28,-5.63,1.36,-5.64,1.64,-5.64,1.62,-5.69,-.52,-5.55,-.33,-5.54,-.28,-5.57,-.37,-5.58,-.27,-5.63,-.03,-5.63,-.08,-5.65,-.13,-5.65,-.18,-5.68,-.21,-5.71,-.17,-5.72,-.12,-5.735,-.64,-5.72,-.4,-5.76,-.29,-5.78,-.34,-5.82,-.29,-5.84,-.04,-5.79,.05,-5.79,.03,-5.81,.13,-5.8,.8,-5.72,.85,-5.8,.75,-5.82,1.14,-5.81,1.17,-5.83,.58,-5.81,.58,-5.85,.35,-5.85,.49,-5.9,.23,-5.89,1.65,-5.88,-.65,-5.89,-.64,-5.9,-.455,-5.93,-.27,-5.92,-.24,-5.92,-.04,-5.93,.14,-5.93,.08,-5.97,-.03,-5.99,.41,-5.96,.45,-5.97,-.27,-6,-.16,-6.01,-.59,-5.99,-.62,-6.04,.73,-5.99,.91,-5.98,.97,-5.99,1.11,-6,1.2,-6,-.05,-6.05,-.09,-6.08,-.28,-6.07,-.44,-6.1,.39,-6.09,1.14,-6.1,.87,-6.12,.69,-6.15,-.33,-6.19,-.25,-6.19,-.23,-6.21,.02,-6.19,.79,-6.21,.14,-6.23,.04,-6.26,-.53,-6.24,-.42,-6.25,1.32,-6.26,1.59,-6.29,1.65,-6.29,.4,-6.29,-.61,-6.32,-.23,-6.36,-.25,-6.4,.02,-6.38,1.07,-6.37,1.14,-6.39,1.2,-6.39,1.15,-6.44,-.58,-6.4,-.64,-6.43,.42,-6.43,.34,-6.44,.49,-6.43,.51,-6.44,-.32,-6.46,-.26,-6.49,-.07,-6.46,-.03,-6.45,.11,-6.46,.08,-6.51,.17,-6.51,1.56,-6.46,-.63,-6.52,-.5,-6.52,-.53,-6.57,-.44,-6.57,-.41,-6.56,-.38,-6.57,.2,-6.56,.13,-6.6,.51,-6.56,.64,-6.56,.6,-6.6,.9,-6.51,.87,-6.54,.96,-6.57,1.02,-6.61,-.62,-6.61,.32,-6.68];
const fieldLowRight=[2.29,-4.69,2.54,-4.68,3.27,-4.71,1.89,-4.75,2.05,-4.8,1.78,-4.8,1.75,-4.81,1.75,-4.85,1.82,-4.85,2.4,-4.83,2.51,-4.84,2.02,-4.9,1.86,-4.94,1.8,-4.96,2.29,-4.98,3.25,-4.97,3.14,-5,2.97,-5.04,3.5,-5.04,1.98,-5.12,2.38,-5.12,3.17,-5.14,1.78,-5.2,1.82,-5.23,2.25,-5.23,2.34,-5.22,2.65,-5.2,2.6,-5.24,2.05,-5.29,1.82,-5.31,1.83,-5.36,1.9,-5.35,1.9,-5.39,2.31,-5.36,2.45,-5.35,2.75,-5.38,3.55,-5.32,3,-5.42,2.23,-5.41,2.16,-5.44,2.56,-5.46,2.54,-5.48,2.98,-5.51,3.08,-5.51,3.66,-5.51,1.7,-5.56,2.16,-5.56,2.58,-5.66,2.84,-5.68,3.54,-5.69,3.49,-5.73,2.98,-5.75,3.19,-5.75,1.77,-5.78,2.89,-5.84,3.13,-5.85,3.58,-5.87,1.74,-5.9,1.67,-5.89,2.21,-5.95,2.54,-5.96,2.11,-6.01,2.74,-6,3.4,-6.05,2.03,-6.09,2.34,-6.15,2.53,-6.15,2.49,-6.2,2.38,-6.22,1.81,-6.26,1.97,-6.26,2.86,-6.29,2.82,-6.36,2.13,-6.46,1.97,-6.5,2.06,-6.53,1.89,-6.57,2.21,-6.57,3.04,-6.57,2.83,-6.6,1.92,-6.63,2.45,-6.66,2.82,-6.68];

const clusterRA =[.193,.515,.382,.79,.934,.709,.483,.296,.44,.457,.644,.677,.503,.509];
const clusterDec=[-2.749,-2.87,-2.912,-2.904,-2.904,-3.007,-2.996,-3.11,-3.145,-3.177,-3.135,-3.21,-3.222,-3.265];
const raLow =[-.253,-.533,.08,.25,.78,.452,.354,-.07,.15,.204,.5,.262,.35,.322];
const raHigh=[.636,1.564,.685,1.327,1.087,.966,.619,.66,.78,.71,.79,.83,.66,.773];
const decLow =[-3.108,-3.711,-3.15,-3.333,-3.03,-3.24,-3.2,-3.41,-3.3,-3.383,-3.3,-3.34,-3.4,-3.42];
const decHigh=[-2.39,-2.019,-2.68,-2.463,-2.78,-2.8,-2.85,-2.81,-3,-2.97,-2.97,-3.09,-3.04,-3.11];

const xLabelled=[-2,0,2,4], yLabelled=[0,-2,-4,-6];
const xMinorTicks=[-2.5,-1.5,-1,-.5,.5,1,1.5,2.5,3,3.5];
const yMinorTicks=[-.5,-1,-1.5,-2.5,-3,-3.5,-4.5,-5,-5.5,-6.5];

const flat=[fieldTopLeft,fieldTopMid,fieldTopRight,fieldMidLeft,fieldMidMid,fieldMidRight,fieldLowLeft,fieldLowMid,fieldLowRight].flat();
const stars=d3.range(0,flat.length,2).map(i=>({ra:flat[i],dec:flat[i+1]}));
const cluster=clusterRA.map((ra,i)=>({ra,dec:clusterDec[i],raLow:raLow[i],raHigh:raHigh[i],decLow:decLow[i],decHigh:decHigh[i]}));

const capH={draw(c,s){const l=Math.sqrt(s/Math.PI);c.moveTo(-l,0);c.lineTo(l,0);}};
const capV={draw(c,s){const l=Math.sqrt(s/Math.PI);c.moveTo(0,-l);c.lineTo(0,l);}};
const LONG=.13, SHORT=.065, X0=-3, X1=4, Y0=-7, Y1=0;
const rx=(ticks,len)=>[Plot.ruleX(ticks,{y1:Y0,y2:Y0+len,stroke:"#000",strokeWidth:1.6}),Plot.ruleX(ticks,{y1:Y1,y2:Y1-len,stroke:"#000",strokeWidth:1.6})];
const ry=(ticks,len)=>[Plot.ruleY(ticks,{x1:X0,x2:X0+len,stroke:"#000",strokeWidth:1.6}),Plot.ruleY(ticks,{x1:X1,x2:X1-len,stroke:"#000",strokeWidth:1.6})];
const fmt=d=>d<0?"\u2212\u2009"+Math.abs(d):String(d);
const label=(t,o)=>Plot.text([t],{text:d=>d,frameAnchor:"top-left",textAnchor:"start",lineAnchor:"bottom",fill:"#000",...o});
const MU={fontFamily:"Liberation Serif",fontStyle:"italic",fontWeight:"bold",fontSize:40};
const SUB={fontFamily:"Liberation Sans",fontSize:18};

const chart=Plot.plot({
  width:1200,height:1187,marginLeft:106,marginRight:9,marginTop:11,marginBottom:91,
  style:{background:"#fff",fontFamily:"Liberation Sans"},
  x:{domain:[X0,X1]},y:{domain:[Y0,Y1]},
  marks:[
    Plot.dot(stars,{x:"ra",y:"dec",r:5.4,fill:"#000"}),
    Plot.link(cluster,{x1:"raLow",x2:"raHigh",y1:"dec",y2:"dec",stroke:"#f00",strokeWidth:2.4}),
    Plot.link(cluster,{x1:"ra",x2:"ra",y1:"decLow",y2:"decHigh",stroke:"#f00",strokeWidth:2.4}),
    Plot.dot(cluster,{x:"raLow",y:"dec",symbol:capV,r:5.5,stroke:"#f00",strokeWidth:2.4,fill:"none"}),
    Plot.dot(cluster,{x:"raHigh",y:"dec",symbol:capV,r:5.5,stroke:"#f00",strokeWidth:2.4,fill:"none"}),
    Plot.dot(cluster,{x:"ra",y:"decLow",symbol:capH,r:5.5,stroke:"#f00",strokeWidth:2.4,fill:"none"}),
    Plot.dot(cluster,{x:"ra",y:"decHigh",symbol:capH,r:5.5,stroke:"#f00",strokeWidth:2.4,fill:"none"}),
    Plot.dot(cluster,{x:"ra",y:"dec",r:5.6,fill:"#f00"}),
    ...rx(xLabelled,LONG),...rx(xMinorTicks,SHORT),...ry(yLabelled,LONG),...ry(yMinorTicks,SHORT),
    Plot.axisX({ticks:xLabelled,tickSize:0,tickPadding:14,fontSize:30,tickFormat:fmt,label:null,anchor:"bottom"}),
    Plot.axisY({ticks:yLabelled,tickSize:0,tickPadding:17,fontSize:30,tickFormat:fmt,label:null,anchor:"left"}),
    Plot.frame({stroke:"#000",strokeWidth:2}),
    label("\u03bc",{...MU,dx:525,dy:1165}),
    label("RA",{...SUB,dx:551,dy:1176}),
    label("*",{...SUB,fontSize:21,dx:549,dy:1157}),
    label("\u03bc",{...MU,rotate:-90,dx:-86,dy:573}),
    label("Dec",{...SUB,rotate:-90,dx:-79,dy:547})
  ]
});
document.getElementById("chart").append(chart);
</script></body></html>
